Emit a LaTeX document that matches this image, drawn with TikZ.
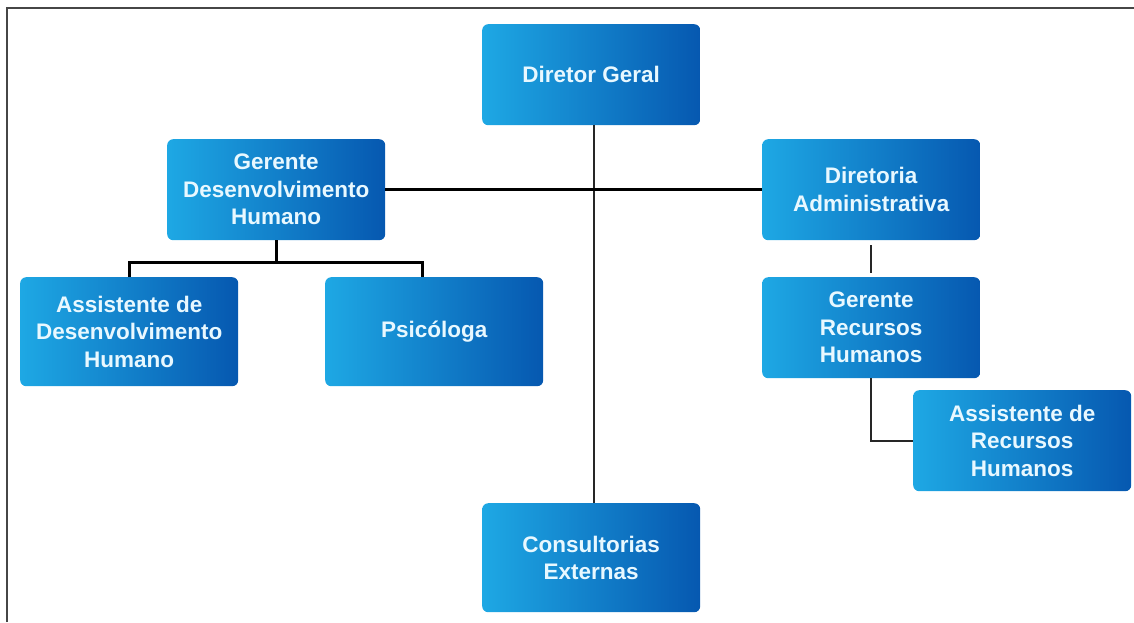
\documentclass[tikz,border=0pt]{standalone}
\usepackage{fontspec}
\setmainfont{Liberation Sans}
\definecolor{boxL}{RGB}{30,168,228}
\definecolor{boxR}{RGB}{6,88,176}
\definecolor{boxT}{RGB}{232,248,255}
\definecolor{frameC}{RGB}{70,70,70}
\begin{document}
\begin{tikzpicture}[x=1pt,y=-1pt,
  box/.style={draw=none, rounded corners=6pt, left color=boxL, right color=boxR,
    minimum width=218pt, text=boxT, align=center, inner sep=0pt, anchor=north west,
    font=\fontsize{22.5}{27.5}\selectfont\bfseries},
  hA/.style={box, minimum height=101pt},
  hB/.style={box, minimum height=109pt},
  thick line/.style={draw=black, line width=2.8pt},
  thin line/.style={draw=black!85, line width=1.8pt}]
\useasboundingbox (0,0) rectangle (1134,622);
% frame
\draw[frameC, line width=2pt] (7,622) -- (7,8) -- (1134,8);
% nodes
\node[hA] (dg) at (482,24) {Diretor Geral};
\node[hA] (gdh) at (167,139) {Gerente\\Desenvolvimento\\Humano};
\node[hA] (da) at (762,139) {Diretoria\\Administrativa};
\node[hA] (grh) at (762,277) {Gerente\\Recursos\\Humanos};
\node[hA] (arh) at (913,390) {Assistente de\\Recursos\\Humanos};
\node[hB] (adh) at (20,277) {Assistente de\\Desenvolvimento\\Humano};
\node[hB] (psi) at (325,277) {Psicóloga};
\node[hB] (ce) at (482,503) {Consultorias\\Externas};
% connectors
\draw[thin line] ([xshift=3pt]dg.south) -- ([xshift=3pt]ce.north);
\draw[thick line] (gdh.east) -- (da.west);
\draw[thick line] (gdh.south) -- ++(0,22) coordinate (jdh);
\draw[thick line] (adh.north) |- (jdh) -| ([xshift=-12pt]psi.north);
\draw[thin line, shorten <=5pt, shorten >=4pt] (da.south) -- (grh.north);
\draw[thin line] (grh.south) |- (arh.west);
\end{tikzpicture}
\end{document}
